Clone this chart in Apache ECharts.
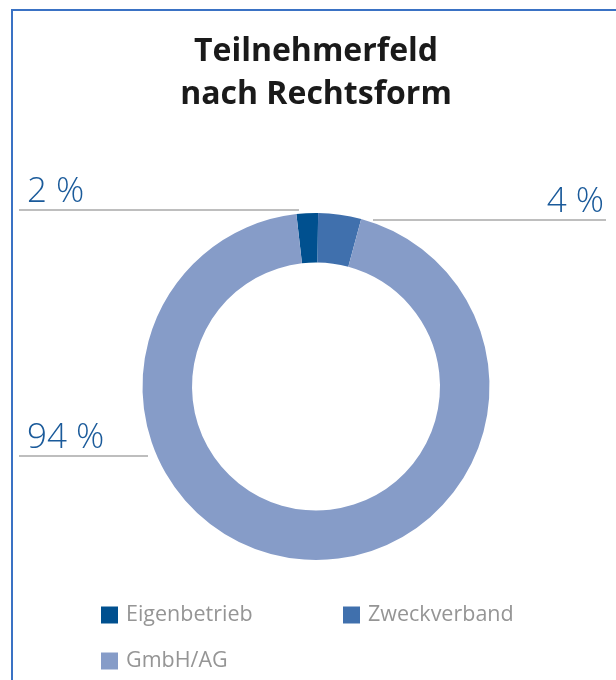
<!DOCTYPE html>
<html>
<head>
<meta charset="utf-8">
<script src="https://cdn.jsdelivr.net/npm/echarts@6/dist/echarts.min.js"></script>
<style>
  html, body { margin: 0; padding: 0; background: #ffffff; }
  #chart { width: 616px; height: 680px; position: relative; }
  #frame { position: absolute; left: 11px; top: 9px; right: -4px; bottom: -4px;
           border-left: 2px solid #3a72c4; border-top: 2px solid #3a72c4; pointer-events: none; }
</style>
</head>
<body>
<div id="chart"></div>
<div id="frame"></div>
<script>
// ---- data ----
const categories = ['Eigenbetrieb', 'Zweckverband', 'GmbH/AG'];
const shares = [2, 4, 94];
const colors = ['#00508f', '#4070ad', '#869cc8'];
const titleLines = ['Teilnehmerfeld', 'nach Rechtsform'];

// ---- label placement (layout only) ----
const labelSpots = [
  { side: 'left',  lineY: 210, reach: 299 },
  { side: 'right', lineY: 220, reach: 373 },
  { side: 'left',  lineY: 456, reach: 148 }
];

const chart = echarts.init(document.getElementById('chart'), null, { renderer: 'canvas' });
const W = 616;

const option = {
  backgroundColor: 'transparent',
  title: {
    text: titleLines.join('\n'),
    left: 316,
    textAlign: 'center',
    top: 30,
    padding: 0,
    textStyle: {
      fontFamily: 'Open Sans',
      fontSize: 32,
      fontWeight: 'bold',
      color: '#1a1a1a',
      lineHeight: 43
    }
  },
  legend: {
    data: categories,
    left: 101,
    top: 604,
    padding: 0,
    orient: 'horizontal',
    itemWidth: 17,
    itemHeight: 17,
    itemGap: 24,
    icon: 'rect',
    textStyle: {
      fontFamily: 'Open Sans',
      fontSize: 21.5,
      color: '#959595',
      lineHeight: 22,
      width: 193,
      padding: [0, 0, 0, 3]
    }
  },
  series: [{
    type: 'pie',
    center: [316, 386.5],
    radius: [124, 173.5],
    startAngle: 96.5,
    clockwise: true,
    silent: true,
    animation: false,
    color: colors,
    itemStyle: { borderWidth: 0 },
    data: categories.map((name, i) => ({ name: name, value: shares[i] })),
    label: {
      show: true,
      position: 'outside',
      formatter: p => p.value + ' %',
      fontFamily: 'Open Sans',
      fontSize: 35,
      fontWeight: 300,
      color: '#1a5a9a'
    },
    labelLine: {
      show: true,
      smooth: false,
      lineStyle: { color: '#a8a8a8', width: 1.4 }
    },
    labelLayout: function (params) {
      const s = labelSpots[params.dataIndex];
      if (s.side === 'left') {
        return {
          x: 27, y: s.lineY - 18, align: 'left', verticalAlign: 'middle',
          labelLinePoints: [[s.reach, s.lineY], [19, s.lineY]]
        };
      }
      return {
        x: W - 12, y: s.lineY - 18, align: 'right', verticalAlign: 'middle',
        labelLinePoints: [[s.reach, s.lineY], [W - 10, s.lineY]]
      };
    }
  }]
};
chart.setOption(option);
</script>
</body>
</html>
